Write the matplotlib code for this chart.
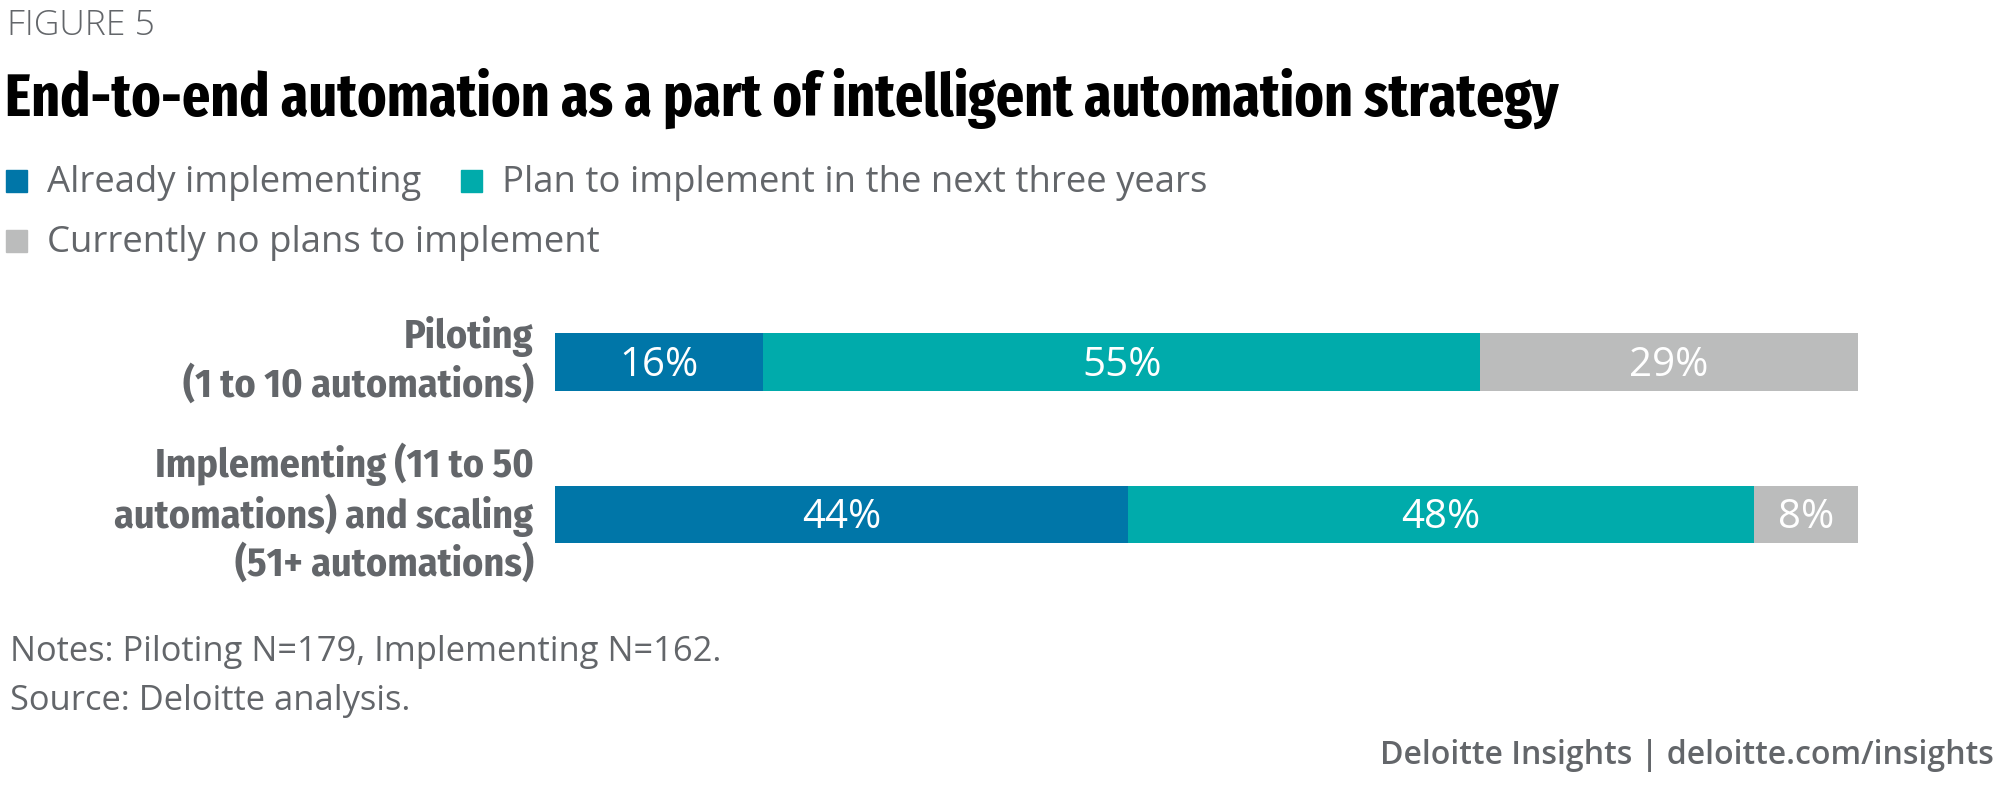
import matplotlib.pyplot as plt
from matplotlib.patches import Rectangle
from matplotlib.transforms import ScaledTranslation

# datos del grafico
categorias = ['Piloting\n(1 to 10 automations)',
              'Implementing (11 to 50\nautomations) and scaling\n(51+ automations)']
series = ['Already implementing', 'Plan to implement in the next three years',
          'Currently no plans to implement']
ya = [16, 44]
plan = [55, 48]
no_plan = [29, 8]

colores = ['#0076A8', '#00ABAB', '#BBBCBC']
gris = '#63666A'
titulo_f = ['Fira Sans Extra Condensed', 'DejaVu Sans']
etiqueta_f = ['Fira Sans Condensed', 'DejaVu Sans']
normal = ['Open Sans', 'DejaVu Sans']

W, H = 2000, 787
fig = plt.figure(figsize=(W / 100, H / 100), dpi=100)


def fx(px):
    return px / W


def fy(py):
    return 1 - py / H


# titulos
fig.text(fx(7), fy(35), 'FIGURE 5', family=normal, fontweight='light',
         fontsize=25.5, color=gris, va='baseline', ha='left')
fig.text(fx(5), fy(116), 'End-to-end automation as a part of intelligent automation strategy',
         family=titulo_f, fontweight='bold', fontstretch='condensed',
         fontsize=43.5, color='#000000', va='baseline', ha='left')

# leyenda
pos_leyenda = [(6, 192), (461, 192), (6, 252)]
for (x, y), nombre, c in zip(pos_leyenda, series, colores):
    fig.patches.append(Rectangle((fx(x), fy(y)), fx(21), 22 / H,
                                 transform=fig.transFigure, color=c))
    fig.text(fx(x + 41), fy(y), nombre, family=normal, fontsize=26.3,
             color=gris, va='baseline', ha='left')

# grafica de barras
top_px, bot_px = 300, 580
c1, paso = 362, 152.5
ax = fig.add_axes([fx(555), fy(bot_px), fx(1303), (bot_px - top_px) / H])
y = [0, 1]
alto = 57.5 / paso
izq = [0, 0]
for vals, c in zip([ya, plan, no_plan], colores):
    barras = ax.barh(y, vals, left=izq, height=alto, color=c, edgecolor='none')
    for b, v, l in zip(barras, vals, izq):
        ax.text(l + v / 2, b.get_y() + b.get_height() / 2 + 13.5 / paso, f'{v}%',
                family=normal, fontsize=29, color='white',
                ha='center', va='baseline')
    izq = [a + b for a, b in zip(izq, vals)]

ax.set_xlim(0, 100)
ax.set_ylim((bot_px - c1) / paso, (top_px - c1) / paso)
ax.set_yticks(y)
ax.set_yticklabels(categorias, family=etiqueta_f, fontweight='bold',
                   fontstretch='condensed', fontsize=28.8, color=gris,
                   linespacing=1.22)
ax.tick_params(axis='y', length=0, pad=15.5)
subir = ScaledTranslation(0, 0.09, fig.dpi_scale_trans)
for lab in ax.get_yticklabels():
    lab.set_transform(lab.get_transform() + subir)
ax.set_xticks([])
for s in ax.spines.values():
    s.set_visible(False)

# notas
fig.text(fx(10), fy(652), 'Notes: Piloting N=179, Implementing N=162.',
         family=normal, fontsize=24.8, color=gris, va='center', ha='left')
fig.text(fx(10), fy(701), 'Source: Deloitte analysis.',
         family=normal, fontsize=24.8, color=gris, va='center', ha='left')
fig.text(fx(1994), fy(756), 'Deloitte Insights | deloitte.com/insights',
         family=normal, fontweight='semibold', fontsize=23, color=gris,
         va='center', ha='right')

fig.savefig('out.png', dpi=100)
